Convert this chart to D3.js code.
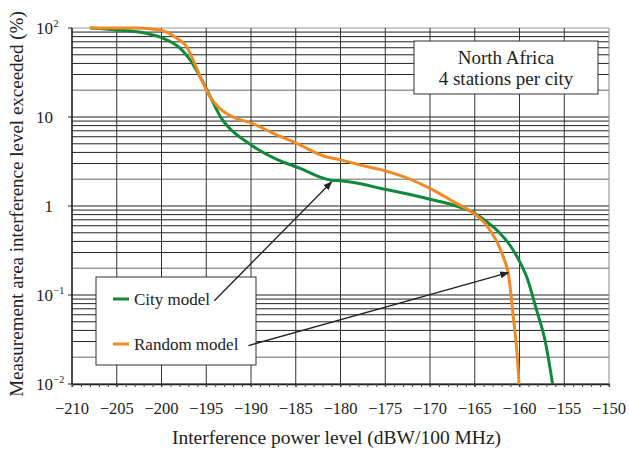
<!DOCTYPE html>
<html lang="en">
<head>
	<meta charset="UTF-8">
	<title>North Africa interference</title>
	<script type="text/javascript" src="https://d3js.org/d3.v7.min.js"></script>
	<style>
		body { margin: 0; background: #fff; }
		text { font-family: "Liberation Serif", "DejaVu Serif", serif; fill: #222; }
	</style>
</head>
<body>
	<svg id="chart" width="629" height="454"></svg>

	<script type="text/javascript">
		// City model curve (dBW/100 MHz, % exceeded)
		var cityX = [-208, -205, -201.7, -199.8, -197.9, -196.8, -195.9, -195.0, -194.2, -193.3, -192.0, -190.5, -189.7, -187, -184.5, -181.9, -181, -180, -177.1, -175.6, -172.6, -170.0, -166.8, -165.0, -163.7, -162.4, -161.05, -160.1, -159.2, -158.1, -157.15, -156.3];
		var cityY = [100, 95, 87, 76.6, 59, 43.7, 31, 21, 14.3, 9.66, 6.84, 5.28, 4.64, 3.3, 2.65, 2.05, 1.95, 1.92, 1.72, 1.58, 1.37, 1.19, 0.98, 0.83, 0.67, 0.52, 0.36, 0.25, 0.16, 0.068, 0.031, 0.01];
		// Random model curve
		var randomX = [-208, -202.8, -200.2, -198.3, -197.2, -196.3, -195.5, -194.6, -193.5, -191.7, -189.9, -187.5, -184.9, -181.9, -180.0, -177.1, -175.6, -170.0, -167.4, -165.0, -163.7, -162.55, -161.7, -161.25, -160.7, -160.3, -160.05];
		var randomY = [100, 100, 95, 77, 62, 40, 26, 17, 12.5, 9.7, 8.5, 6.55, 5.06, 3.65, 3.3, 2.78, 2.58, 1.58, 1.12, 0.81, 0.61, 0.40, 0.25, 0.175, 0.057, 0.024, 0.01];

		var xTicks = [-210, -205, -200, -195, -190, -185, -180, -175, -170, -165, -160, -155, -150];
		var yTicks = [0.01, 0.1, 1, 10, 100];
		var yTickBase = ["10", "10", "1", "10", "10"];
		var yTickSup = ["\u22122", "\u22121", "", "", "2"];

		var seriesNames = ["City model", "Random model"];
		var seriesColors = ["#11893a", "#f08a24"];
		var titleLines = ["North Africa", "4 stations per city"];
		// arrows: [fromX, fromY] -> [toX, toY] in data units
		var arrowFrom = [[-194.1, 0.0863], [-190.3, 0.027]];
		var arrowTo = [[-181.0, 1.86], [-161.25, 0.178]];

		var svg = d3.select("#chart");
		var pLeft = 72, pRight = 609, pTop = 28, pBottom = 384;

		var x = d3.scaleLinear().domain([-210, -150]).range([pLeft, pRight]);
		var y = d3.scaleLog().domain([0.01, 100]).range([pBottom, pTop]);

		function mantissa(d) {
			return Math.round(d / Math.pow(10, Math.floor(Math.log10(d) + 1e-9)));
		}

		// grid lines
		var minor = [];
		for (var e = -2; e < 2; e++) {
			for (var k = 1; k < 10; k++) minor.push(k * Math.pow(10, e));
		}
		minor.push(100);
		svg.append("g").selectAll("line").data(minor).enter().append("line")
			.attr("x1", pLeft).attr("x2", pRight)
			.attr("y1", function(d) { return y(d); })
			.attr("y2", function(d) { return y(d); })
			.attr("stroke", function(d) { return (mantissa(d) == 2 || d == 100) ? "#999" : "#222"; })
			.attr("stroke-width", function(d) { return mantissa(d) == 2 ? 1.6 : 1; });

		svg.append("g").selectAll("line").data(xTicks).enter().append("line")
			.attr("x1", function(d) { return x(d); })
			.attr("x2", function(d) { return x(d); })
			.attr("y1", pTop).attr("y2", pBottom + 3)
			.attr("stroke", function(d) { return d == -150 ? "#888" : "#333"; })
			.attr("stroke-width", 1);

		// x axis with minor ticks
		var xAxis = d3.axisBottom(x).tickValues(d3.range(-210, -149, 1)).tickSize(3).tickFormat("");
		svg.append("g")
			.attr("transform", "translate(0," + pBottom + ")")
			.call(xAxis)
			.call(function(g) {
				g.select(".domain").attr("stroke", "#222").attr("stroke-width", 1.3);
				g.selectAll(".tick line").attr("stroke", "#444");
			});

		// left axis line
		svg.append("line").attr("x1", pLeft).attr("x2", pLeft).attr("y1", pTop).attr("y2", pBottom)
			.attr("stroke", "#222").attr("stroke-width", 1.3);
		svg.append("g").selectAll("line").data(yTicks).enter().append("line")
			.attr("x1", pLeft - 4).attr("x2", pLeft)
			.attr("y1", function(d) { return y(d); })
			.attr("y2", function(d) { return y(d); })
			.attr("stroke", "#222");

		// tick labels
		svg.append("g").selectAll("text").data(xTicks).enter().append("text")
			.attr("x", function(d) { return x(d); })
			.attr("y", pBottom + 30)
			.attr("text-anchor", "middle")
			.style("font-size", "16.5px")
			.text(function(d) { return "\u2212" + Math.abs(d); });

		var yl = svg.append("g").selectAll("g").data(yTicks).enter().append("g");
		yl.append("text")
			.attr("x", 53)
			.attr("y", function(d) { return y(d) + 6; })
			.attr("text-anchor", "end")
			.style("font-size", "17px")
			.text(function(d, i) { return yTickBase[i]; });
		yl.append("text")
			.attr("x", 53.5)
			.attr("y", function(d) { return y(d) - 1; })
			.style("font-size", "10px")
			.text(function(d, i) { return yTickSup[i]; });

		// axis titles
		svg.append("text")
			.attr("x", (pLeft + pRight) / 2 - 4)
			.attr("y", 444)
			.attr("text-anchor", "middle")
			.style("font-size", "19.5px")
			.text("Interference power level (dBW/100 MHz)");
		svg.append("text")
			.attr("transform", "translate(23,204) rotate(-90)")
			.attr("text-anchor", "middle")
			.style("font-size", "19px")
			.text("Measurement area interference level exceeded (%)");

		// curves
		var line = d3.line()
			.x(function(d) { return x(d[0]); })
			.y(function(d) { return y(d[1]); })
			.curve(d3.curveMonotoneX);
		var curves = [d3.zip(cityX, cityY), d3.zip(randomX, randomY)];
		svg.append("g").selectAll("path").data(curves).enter().append("path")
			.attr("d", line)
			.attr("fill", "none")
			.attr("stroke", function(d, i) { return seriesColors[i]; })
			.attr("stroke-width", 3);

		// title box
		svg.append("rect").attr("x", 414).attr("y", 41).attr("width", 184).attr("height", 53)
			.attr("fill", "#fff").attr("stroke", "#333").attr("stroke-width", 1);
		svg.append("g").selectAll("text").data(titleLines).enter().append("text")
			.attr("x", 506)
			.attr("y", function(d, i) { return 64 + i * 21; })
			.attr("text-anchor", "middle")
			.style("font-size", "19px")
			.text(function(d) { return d; });

		// legend
		svg.append("rect").attr("x", 96).attr("y", 277).attr("width", 160).attr("height", 88)
			.attr("fill", "#fff").attr("stroke", "#333").attr("stroke-width", 1);
		var lg = svg.append("g").selectAll("g").data(seriesNames).enter().append("g")
			.attr("transform", function(d, i) { return "translate(113," + (299 + i * 45) + ")"; });
		lg.append("line").attr("x1", 0).attr("x2", 16)
			.attr("stroke", function(d, i) { return seriesColors[i]; })
			.attr("stroke-width", 3);
		lg.append("text").attr("x", 21).attr("y", 6)
			.style("font-size", "17px")
			.text(function(d) { return d; });

		// arrows
		svg.append("defs").append("marker")
			.attr("id", "arrow").attr("viewBox", "0 0 10 10")
			.attr("refX", 9).attr("refY", 5)
			.attr("markerWidth", 9).attr("markerHeight", 9)
			.attr("markerUnits", "userSpaceOnUse")
			.attr("orient", "auto")
			.append("path").attr("d", "M0,1 L10,5 L0,9 Z").attr("fill", "#222");
		svg.append("g").selectAll("line").data(arrowFrom).enter().append("line")
			.attr("x1", function(d) { return x(d[0]); })
			.attr("y1", function(d) { return y(d[1]); })
			.attr("x2", function(d, i) { return x(arrowTo[i][0]); })
			.attr("y2", function(d, i) { return y(arrowTo[i][1]); })
			.attr("stroke", "#222").attr("stroke-width", 1.3)
			.attr("marker-end", "url(#arrow)");
	</script>
</body>
</html>
